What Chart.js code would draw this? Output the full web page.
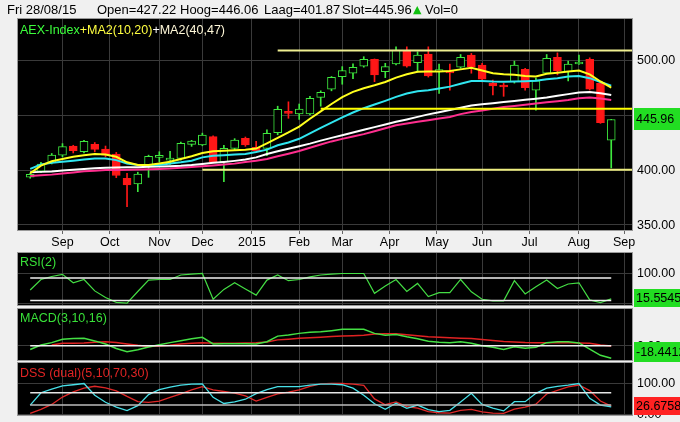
<!DOCTYPE html>
<html><head><meta charset="utf-8">
<script src="https://cdn.jsdelivr.net/npm/chart.js@4.4.1/dist/chart.umd.min.js"></script>
<style>
html,body{margin:0;padding:0;background:#f0f0f0;width:680px;height:422px;overflow:hidden;font-family:"Liberation Sans",Arial,sans-serif;}
canvas{position:absolute;left:0;}
.t{position:absolute;white-space:nowrap;font-size:12.5px;line-height:15px;z-index:5;}
</style></head><body>
<canvas id="cMain" width="680" height="250" style="top:0"></canvas>
<canvas id="cRsi" width="680" height="57" style="top:250px"></canvas>
<canvas id="cMacd" width="680" height="55" style="top:307px"></canvas>
<canvas id="cDss" width="680" height="60" style="top:362px"></canvas>

<div class="t" id="hDate" style="top:2px;left:7px;font-size:13px;color:#000"></div>
<div class="t" id="hOpen" style="top:2px;left:97px;font-size:13px;color:#000"></div>
<div class="t" id="hHigh" style="top:2px;left:180px;font-size:13px;color:#000"></div>
<div class="t" id="hLow" style="top:2px;left:264px;font-size:13px;color:#000"></div>
<div class="t" id="hClose" style="top:2px;left:342px;font-size:13px;color:#000"></div>
<div class="t" style="top:2px;left:413px;font-size:11px;color:#10c010;font-family:'DejaVu Sans',sans-serif">&#9650;</div>
<div class="t" id="hVol" style="top:2px;left:425px;font-size:13px;color:#000"></div>

<div class="t" style="top:23px;left:20px"><span style="color:#3cff3c">AEX-Index</span><span style="color:#ffff40">+MA2(10,20)</span><span style="color:#ffffff">+</span><span style="color:#fff8d8">MA2(40,47)</span></div>
<div class="t" style="top:255px;left:20px;color:#38e038">RSI(2)</div>
<div class="t" style="top:311px;left:20px;color:#38e038">MACD(3,10,16)</div>
<div class="t" style="top:366px;left:20px;color:#e02424">DSS (dual)(5,10,70,30)</div>

<script>
// ---------- data ----------
const weekStarts = ['2014-08-11','2014-08-18','2014-08-25','2014-09-01','2014-09-08','2014-09-15','2014-09-22','2014-09-29','2014-10-06','2014-10-13',
 '2014-10-20','2014-10-27','2014-11-03','2014-11-10','2014-11-17','2014-11-24','2014-12-01','2014-12-08','2014-12-15','2014-12-22',
 '2014-12-29','2015-01-05','2015-01-12','2015-01-19','2015-01-26','2015-02-02','2015-02-09','2015-02-16','2015-02-23','2015-03-02',
 '2015-03-09','2015-03-16','2015-03-23','2015-03-30','2015-04-06','2015-04-13','2015-04-20','2015-04-27','2015-05-04','2015-05-11',
 '2015-05-18','2015-05-25','2015-06-01','2015-06-08','2015-06-15','2015-06-22','2015-06-29','2015-07-06','2015-07-13','2015-07-20',
 '2015-07-27','2015-08-03','2015-08-10','2015-08-17','2015-08-24'];

const openP = [393.5,399,407,413.6,421.8,416.7,423.3,419,414.5,392.5, 387.3,404.5,411.5,409,410.6,423.3,422.7,430.3,407.5,419.7,
 428.8,420.6,419.7,434,452.4,450.9,450.9,466.1,473.4,484.8, 488,494.5,500.6,489.4,496.4,509,497.5,505.5,489.5,489,
 493.4,504.5,495.5,478.8,476.5,480.3,491.5,472.7,488,502.4, 489.4,496.4,500.6,478.8,427.22];
const highP = [397,407,415,424,422.5,427,425,421.8,416,397, 398,413.5,416.6,417,425.5,427,433.5,431,422.5,428.5,
 430,426,436.5,458,462,460,467,472,485,494, 496.5,503,501,497,512,512,507.5,512,496.4,496.4,
 505,506,497,481.8,479,499,492.5,483.5,505,506.5, 499,504.5,502,480.3,446.06];
const lowP = [392.5,397.5,405.5,412,415.5,415.5,416.5,412,393,366.6, 380.3,393.3,407.5,405,409,421.5,422,406.5,389.4,418,
 421.5,416,413,432,447,446,450,458,472,478, 483,493.5,480.3,484,495.5,493.5,489,484.5,469.7,472.7,
 492.5,488,480,468.2,467,479,472.5,454.5,487.5,486.5, 481,496,472.7,442.4,401.87];
const closeP = [396,405.5,413.6,421.2,417.5,426,418.8,413.6,395,386.5, 396.4,412.5,412,409.5,424.2,426.4,431.8,407.5,419.7,427.3,
 422.7,417.5,433.3,455.2,451.5,455.5,465.2,470.6,484.3,490.3, 493.4,500.6,486.4,494,509,494.5,504.5,485.5,491,488.3,
 502.4,494,482.5,476.5,475.5,495.5,474.8,481,501.5,490.3, 496.4,497.5,473.4,443,445.96];
const lastVolume = 0;

const ma10 = [397,404,408,410,412,413.5,414.5,414,412,407, 404.5,404.5,406,407.5,410,412.5,415.5,417,417.5,418,
 418.5,419.5,424.3,429.3,434.2,439.5,446.6,453.3,460,466.2, 471,474.3,477,480,484,487,489.4,489.5,489.5,490,
 491.5,493,490.5,488,487,486.5,485.5,485,487.5,488.5, 489.5,490.5,487,480.5,475];
const ma20 = [401,405,406.5,407.5,408.5,409.5,410.5,410.5,409,406, 404.5,404.5,404.5,406,407,408.5,411.5,413,413.5,414,
 414.5,416.3,418.5,422.5,425,428.4,433.4,438.3,443,447.8, 452.3,456.2,459.5,462.9,466.5,469.5,471.6,472.6,474.1,475.8,
 478.5,481,481,480.5,480.3,480.5,480.8,481.2,482.5,483.5, 485,485.5,483.5,480,476.7];
const ma40 = [397.9,398.3,398.7,399.5,400.2,401,401.5,402,402.3,402.4, 402.6,403,403.2,403.5,403.8,404.5,405.5,406.5,407.3,408.3,
 409.5,411.5,414.5,417,419.3,421.6,424,426.7,429.2,431.6, 434.1,436.6,439,441.4,443.8,446,448.3,450.6,452.6,454.5,
 456.6,458.7,459.8,460.8,461.8,462.8,463.8,464.8,466,467.5, 469,470.5,471,469.8,468.2];
const ma47 = [394.5,395.3,395.8,396.8,397.8,398.8,399.4,400,400,400.2, 400.4,400.6,400.9,401.3,402,402.7,403.5,404.2,405,405.8,
 407.2,408.4,410,412.5,414.8,417.3,420.2,423.2,426,428.3, 430.5,432.6,435.2,438,440.7,442.3,443.8,445.3,446.8,448.2,
 450.8,452.8,454.2,455.6,457.2,458.3,459.3,460.5,461.6,462.6, 463.6,465.3,466,465,463.6];

const levelValues = [508.7, 455.7, 400.3];
const levelStarts = ['2015-01-19', '2015-02-16', '2014-12-01'];

const rsi = [45,80,90,97,69,80,42,20,4,1, 40,78,80,80,95,98,100,14,47,69, 48,28,78,95,76,80,89,95,98,100,
 100,100,34,58,80,40,67,23,36,36, 80,39,14,9,9,76,32,56,78,50, 65,69,12,3,15.5545];
const rsiLevels = [85, 10];

const macd = [-5.5,1,4.5,9.3,10.5,10.7,7,2.5,-4,-8.8, -6,-2,1.5,4.5,7.3,10,12.2,2.5,2.7,2.9, 2.7,2.5,5.8,14,15.5,18,19.5,20.3,22,24,
 24,24,18,15.3,16.5,13,10,6.5,5,4.4, 5.8,3.5,0,-2.4,-5.4,-1.5,-3.9,-2.4,4.4,5.8, 5.8,4,-5,-14,-18.4412];
const macdSignal = [null,null,1,3.4,3.6,4,5,5.8,4.5,2.5, 0.5,-1,-0.5,0.5,2.5,3.5,4.4,3.5,3.4,3.4, 3.8,4.4,5.5,8.5,9.5,10.7,11.5,12.5,13.3,14,
 14.5,15.3,17,17.5,17.5,16,14.5,13,12.2,11.5, 11,10.5,9,7.5,6,5.5,4.6,4.4,4.4,4.4, 4.4,3.8,3.4,1,-0.5];
const macdLevels = [0];

const dssFast = [30,70,82,92,96,100,62,39,23,12, 28,64,80,88,95,98,99,55,35,40, 49,67,80,90,90,90,95,98,98,96,
 85,62,34,16,36,19.5,30,15,8.5,13, 40,68,32,20,11,41,41,68,85,91, 95,100,52,30,24];
const dssSlow = [3,16,32,56,73,85,91,86,76,58, 41,39,43,55,66,79,90,79,74,69, 60,43,55,66,72,79,91,99,100,100,
 98,94,50,31,40,25,20,9,5,4, 13,16,8,4,3,17,23,33,66,78, 89,95,77,43,26.6758];
const dssLevels = [70, 30];

const monthTickDates = ['2014-09-01','2014-10-01','2014-11-01','2014-12-01','2015-01-01','2015-02-01','2015-03-01',
 '2015-04-01','2015-05-01','2015-06-01','2015-07-01','2015-08-01','2015-09-01'];
const monthTickLabels = ['Sep','Oct','Nov','Dec','2015','Feb','Mar','Apr','May','Jun','Jul','Aug','Sep'];

// ---------- helpers ----------
const FONT = '"Liberation Sans", Arial, sans-serif';
const BASE = Date.UTC(2014, 7, 11);
function bd(s) { // business-day index from first week
  const [y, m, d] = s.split('-').map(Number);
  const days = Math.round((Date.UTC(y, m - 1, d) - BASE) / 864e5);
  let w = Math.floor(days / 7), o = days - w * 7;
  if (o >= 5) { w++; o = 0; }
  return w * 5 + o;
}
const xs = weekStarts.map(bd);
const X_MIN = -5.67, X_MAX = 279.65;
const GRID = '#3a3a3a';

function xScale(show) {
  return {
    type: 'linear', min: X_MIN, max: X_MAX, offset: false,
    afterBuildTicks: s => { s.ticks = monthTickDates.map(d => ({ value: bd(d) })); },
    afterFit: s => { s.height = show ? 20 : 0; },
    grid: { color: GRID, offset: false, drawTicks: show, tickLength: 4, tickColor: '#666' },
    border: { display: false },
    ticks: { display: show, color: '#000', font: { family: FONT, size: 12.5 }, padding: 1, maxRotation: 0, autoSkip: false,
      callback: (v, i) => monthTickLabels[i] }
  };
}
function yScale(min, max, vals) {
  return {
    type: 'linear', position: 'right', min, max,
    afterBuildTicks: s => { s.ticks = vals.map(v => ({ value: v })); },
    afterFit: s => { s.width = 48; },
    grid: { color: GRID, drawTicks: false },
    border: { display: false },
    ticks: { display: false }
  };
}
const panelPlugin = {
  id: 'vbox',
  beforeDraw(c) {
    const { ctx, chartArea: a } = c;
    ctx.save();
    ctx.fillStyle = '#f0f0f0'; ctx.fillRect(0, 0, c.width, c.height);
    ctx.fillStyle = '#000'; ctx.fillRect(a.left, a.top, a.right - a.left, a.bottom - a.top);
    ctx.restore();
  },
  afterDraw(c, args, o) {
    const { ctx, chartArea: a } = c;
    const ys = c.scales.y;
    ctx.save();
    ctx.strokeStyle = '#9a9a9a'; ctx.lineWidth = 1;
    ctx.strokeRect(a.left - 0.5, a.top - 0.5, a.right - a.left + 1, a.bottom - a.top + 1);
    ctx.font = '12.5px ' + FONT; ctx.textBaseline = 'middle'; ctx.textAlign = 'left'; ctx.fillStyle = '#000';
    ys.ticks.forEach(t => ctx.fillText(Number(t.value).toFixed(2), a.right + 5, ys.getPixelForValue(t.value) + 0.5));
    if (o && o.text) {
      const y = ys.getPixelForValue(o.value);
      const h = o.h;
      let top = Math.round(y - h / 2);
      top = Math.max(0, Math.min(c.height - h, top));
      ctx.fillStyle = o.bg; ctx.fillRect(a.right + 2, top, c.width - a.right - 2, h);
      ctx.fillStyle = '#000';
      ctx.fillText(o.text, a.right + 4, top + h / 2 + 0.5);
    }
    ctx.restore();
  }
};
function baseOptions(pad, yS, showX, box) {
  return {
    responsive: false, animation: false, devicePixelRatio: 1,
    layout: { padding: pad },
    scales: { x: xScale(showX), y: yS },
    plugins: { legend: { display: false }, tooltip: { enabled: false }, vbox: box }
  };
}
const pts = arr => xs.map((x, i) => ({ x, y: arr[i] }));
const lineDs = (arr, color, w, order) => ({ type: 'line', data: pts(arr), borderColor: color, borderWidth: w, pointRadius: 0, tension: 0, order, spanGaps: false });
const hLine = (lv, x0, x1, color, w) => ({ type: 'line', data: [{ x: x0, y: lv }, { x: x1, y: lv }], borderColor: color, borderWidth: w, pointRadius: 0, order: 0 });

// ---------- header ----------
const n = closeP.length - 1;
const lastFri = new Date(Date.parse(weekStarts[n] + 'T00:00:00Z') + 4 * 864e5);
const dd = String(lastFri.getUTCDate()).padStart(2, '0'), mm = String(lastFri.getUTCMonth() + 1).padStart(2, '0'), yy = String(lastFri.getUTCFullYear()).slice(2);
document.getElementById('hDate').textContent = 'Fri ' + dd + '/' + mm + '/' + yy;
document.getElementById('hOpen').textContent = 'Open=' + openP[n].toFixed(2);
document.getElementById('hHigh').textContent = 'Hoog=' + highP[n].toFixed(2);
document.getElementById('hLow').textContent = 'Laag=' + lowP[n].toFixed(2);
document.getElementById('hClose').textContent = 'Slot=' + closeP[n].toFixed(2);
document.getElementById('hVol').textContent = 'Vol=' + lastVolume;

// ---------- main ----------
const GREEN = '#3ee83e', RED = '#ff1717';
const up = closeP.map((c, i) => c >= openP[i]);
const levelColors = ['#eeee90', '#ffff00', '#eeee80'];
new Chart(document.getElementById('cMain'), {
  type: 'bar',
  plugins: [panelPlugin],
  data: { datasets: [
    ...levelValues.map((lv, k) => hLine(lv, bd(levelStarts[k]), X_MAX, levelColors[k], 2)),
    lineDs(ma10, '#ffff1e', 2, 1),
    lineDs(ma20, '#30e6f0', 2, 1),
    lineDs(ma40, '#ffffff', 2, 1),
    lineDs(ma47, '#ff2e8e', 2, 1),
    { type: 'bar', data: xs.map((x, i) => ({ x, y: [openP[i], closeP[i]] })),
      backgroundColor: up.map(u => u ? '#000' : RED), borderColor: up.map(u => u ? GREEN : RED),
      borderWidth: 1, borderSkipped: false, barThickness: 8, grouped: false, minBarLength: 2, order: 2 },
    { type: 'bar', data: xs.map((x, i) => ({ x, y: [lowP[i], highP[i]] })),
      backgroundColor: up.map(u => u ? GREEN : RED), borderWidth: 0, barThickness: 1, grouped: false, order: 3 }
  ] },
  options: baseOptions({ left: 18, top: 19, right: 0, bottom: 0 }, yScale(345.45, 537.3, [350, 400, 450, 500]), true,
    { value: closeP[n], text: closeP[n].toFixed(2), bg: '#22dd22', h: 22 })
});

// ---------- RSI ----------
new Chart(document.getElementById('cRsi'), {
  type: 'line',
  plugins: [panelPlugin],
  data: { datasets: [
    ...rsiLevels.map(lv => hLine(lv, xs[0], xs[n], '#f0f0f0', 1.5)),
    lineDs(rsi, '#44dd44', 1.2, 1)
  ] },
  options: baseOptions({ left: 18, top: 3, right: 0, bottom: 2 }, yScale(-5, 168.3, [0, 100]), false,
    { value: rsi[n], text: rsi[n].toFixed(4), bg: '#22dd22', h: 18 })
});

// ---------- MACD ----------
new Chart(document.getElementById('cMacd'), {
  type: 'line',
  plugins: [panelPlugin],
  data: { datasets: [
    ...macdLevels.map(lv => hLine(lv, xs[0], xs[n], '#f0f0f0', 1.5)),
    lineDs(macd, '#44e044', 1.5, 1),
    lineDs(macdSignal, '#e02222', 1.5, 2)
  ] },
  options: baseOptions({ left: 18, top: 2, right: 0, bottom: 2 }, yScale(-20.9, 53.6, [0]), false,
    { value: macd[n], text: macd[n].toFixed(4), bg: '#22dd22', h: 20 })
});

// ---------- DSS ----------
new Chart(document.getElementById('cDss'), {
  type: 'line',
  plugins: [panelPlugin],
  data: { datasets: [
    hLine(dssLevels[0], xs[0], xs[n], '#e6e6e6', 1.5),
    hLine(dssLevels[1], xs[0], xs[n], '#bdbdbd', 1.5),
    lineDs(dssFast, '#48e0e8', 1.3, 1),
    lineDs(dssSlow, '#e02828', 1.3, 2)
  ] },
  options: baseOptions({ left: 18, top: 1, right: 0, bottom: 7 }, yScale(-2.3, 166.6, [0, 100]), false,
    { value: dssSlow[n], text: dssSlow[n].toFixed(4), bg: '#ff2222', h: 18 })
});
</script>
</body></html>
